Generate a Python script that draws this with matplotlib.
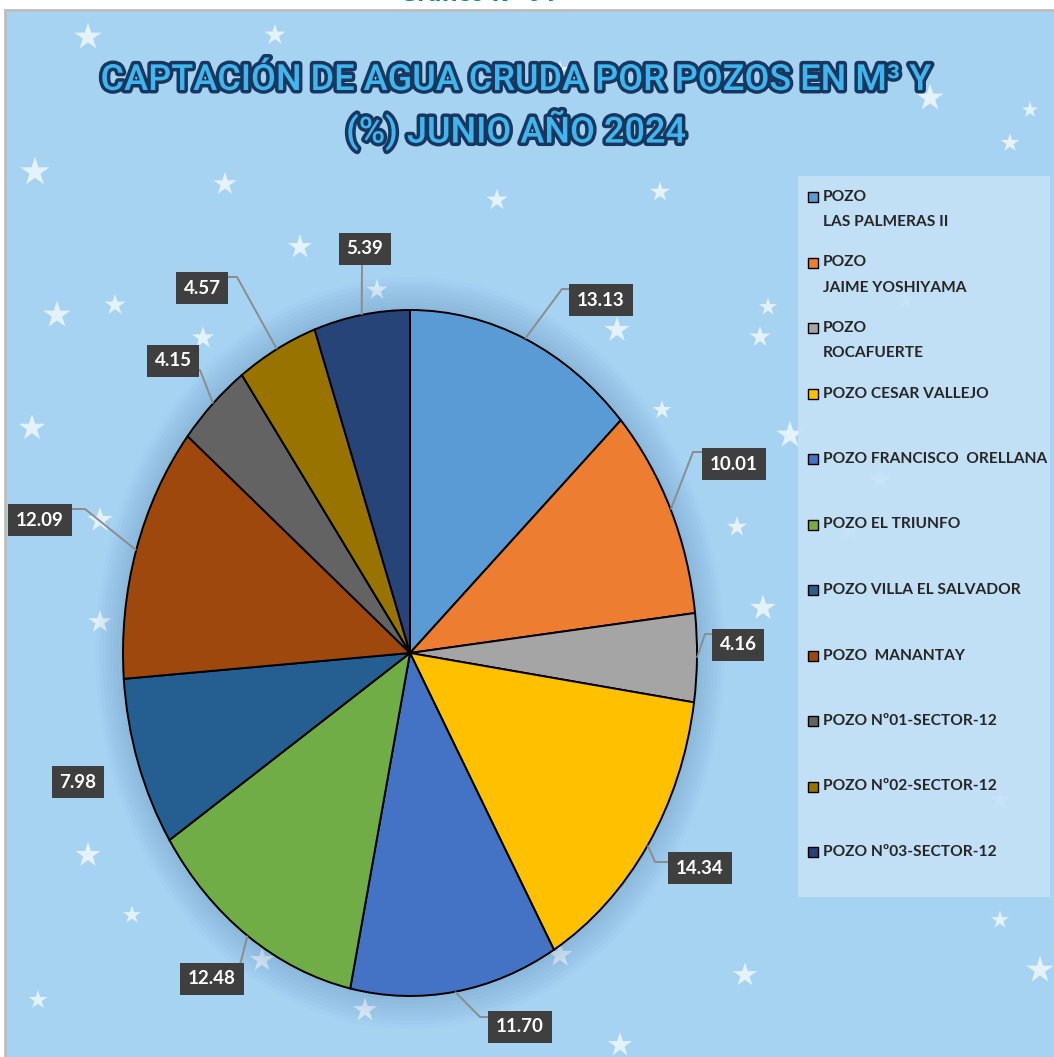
import numpy as np
import matplotlib.pyplot as plt
import matplotlib.patheffects as pe
from matplotlib.patches import Rectangle, Ellipse

# datos del grafico (%)
pozos = ['POZO\nLAS PALMERAS II', 'POZO\nJAIME YOSHIYAMA', 'POZO\nROCAFUERTE',
         'POZO CESAR VALLEJO', 'POZO FRANCISCO  ORELLANA', 'POZO EL TRIUNFO',
         'POZO VILLA EL SALVADOR', 'POZO  MANANTAY', 'POZO Nº01-SECTOR-12',
         'POZO Nº02-SECTOR-12', 'POZO Nº03-SECTOR-12']
valores = [13.13, 10.01, 4.16, 14.34, 11.70, 12.48, 7.98, 12.09, 4.15, 4.57, 5.39]
colores = ['#5B9BD5', '#ED7D31', '#A5A5A5', '#FFC000', '#4472C4', '#70AD47',
           '#255E91', '#9E480E', '#636363', '#997300', '#264478']

titulo = 'CAPTACIÓN DE AGUA CRUDA POR POZOS EN M³ Y\n(%) JUNIO AÑO 2024'
subtitulo = 'Gráfico N° 04'

# posicion de las etiquetas (pixeles) y codo de la linea guia
etq_pos = [(601, 300), (734, 464), (738, 645), (700, 868), (520, 1027), (212, 979),
           (78, 782), (40, 520), (173, 361), (202, 288), (365, 249)]
codos = [(562, 289), (693, 452), (705, 634), (655, 862), (480, 1017), (240, 965),
         None, (85, 509), (200, 370), (237, 277), (362, 267)]

# estrellas del fondo (x, y, tam)
estrellas = [(88, 37, 420), (35, 172, 480), (225, 184, 300), (300, 247, 330), (57, 315, 420),
             (115, 305, 250), (203, 338, 280), (32, 428, 400), (100, 520, 360), (377, 290, 250),
             (497, 200, 260), (660, 192, 230), (930, 98, 420), (1010, 143, 200), (1030, 110, 150),
             (617, 330, 360), (760, 337, 250), (662, 410, 200), (790, 435, 420), (737, 527, 230),
             (763, 608, 380), (768, 307, 180), (100, 622, 300), (88, 855, 360), (132, 915, 180),
             (262, 960, 330), (365, 1010, 330), (560, 955, 360), (620, 1045, 330), (745, 975, 330),
             (1040, 970, 420), (1000, 920, 180), (38, 1000, 200), (930, 655, 160), (1000, 800, 250),
             (880, 480, 300), (905, 300, 180), (850, 530, 250), (275, 35, 250), (560, 70, 200)]

W, H = 1054, 1057
CX, CY, RX, RY = 410, 653, 287, 343


def px(x):
    return (x - CX) / RX


def py(y):
    return (CY - y) / RY


fig = plt.figure(figsize=(W / 100, H / 100), dpi=100, facecolor='white')
ax = fig.add_axes([0, 0, 1, 1])

# fondo
ax.add_patch(Rectangle((px(5), py(1060)), px(1060) - px(5), py(10) - py(1060),
                       fc='#A7D3F3', ec='#BDBDBD', lw=2, zorder=0))
ex = [px(s[0]) for s in estrellas]
ey = [py(s[1]) for s in estrellas]
ax.scatter(ex, ey, s=[s[2] for s in estrellas], marker='*', c='#F4FAFF', alpha=0.8,
           linewidths=0, zorder=1)

# halo alrededor de la torta
for k in range(8):
    f = 1.0 + 0.012 * (k + 1)
    ax.add_patch(Ellipse((0, 0), 2 * f, 2 * f, fc='#3d6f9e', ec='none', alpha=0.03, zorder=2))

wedges, _ = ax.pie(valores, colors=colores, startangle=90, counterclock=False, radius=1,
                   wedgeprops=dict(edgecolor='black', linewidth=1.4, zorder=3))
ax.set_aspect('auto')
ax.set_xlim(px(0), px(W))
ax.set_ylim(py(H), py(0))
ax.axis('off')

# etiquetas con lineas guia
acum = np.cumsum(valores) - np.array(valores) / 2
for i, v in enumerate(valores):
    t = np.deg2rad(90 - 360 * acum[i] / 100)
    lx, ly = etq_pos[i]
    if codos[i] is not None:
        cx_, cy_ = codos[i]
        if abs(cx_ - lx) > 25:
            fin = (lx, cy_)
        else:
            fin = (cx_, ly)
        ax.plot([np.cos(t), px(cx_), px(fin[0])], [np.sin(t), py(cy_), py(fin[1])],
                color='#8C8C8C', lw=1.4, zorder=4, solid_capstyle='butt')
    ax.text(px(lx), py(ly), f'{v:.2f}', ha='center', va='center', color='white',
            fontsize=13.5, fontweight='bold', family=['Lato', 'DejaVu Sans'], zorder=6,
            bbox=dict(boxstyle='square,pad=0.42', fc='#3F3F3F', ec='none'))

# leyenda
ax.add_patch(Rectangle((px(798), py(897)), px(1050) - px(798), py(176) - py(897),
                       fc='#C5E1F6', ec='none', alpha=0.9, zorder=2))
for i, nombre in enumerate(pozos):
    y0 = 197 + i * 65.5
    ax.scatter([px(813)], [py(y0)], marker='s', s=60, c=colores[i], edgecolors='black',
               linewidths=1.0, zorder=5)
    for j, linea in enumerate(nombre.split('\n')):
        ax.text(px(823), py(y0 + 25 * j), linea, ha='left', va='center', fontsize=11.2,
                fontweight='bold', color='#262626', family=['Lato', 'DejaVu Sans'], zorder=5)

# titulo
ax.text(px(516), py(107), titulo, ha='center', va='center', fontsize=26,
        linespacing=1.32, color='#41B6EE', family=['Roboto', 'DejaVu Sans'], fontweight='medium',
        zorder=7, path_effects=[pe.Stroke(linewidth=5, foreground='#17375E'), pe.Normal()])
ax.text(px(478), py(-5), subtitulo, ha='center', va='center', fontsize=15,
        fontweight='bold', color='#12898A', zorder=7)

fig.savefig('out.png', dpi=100, facecolor='white')
